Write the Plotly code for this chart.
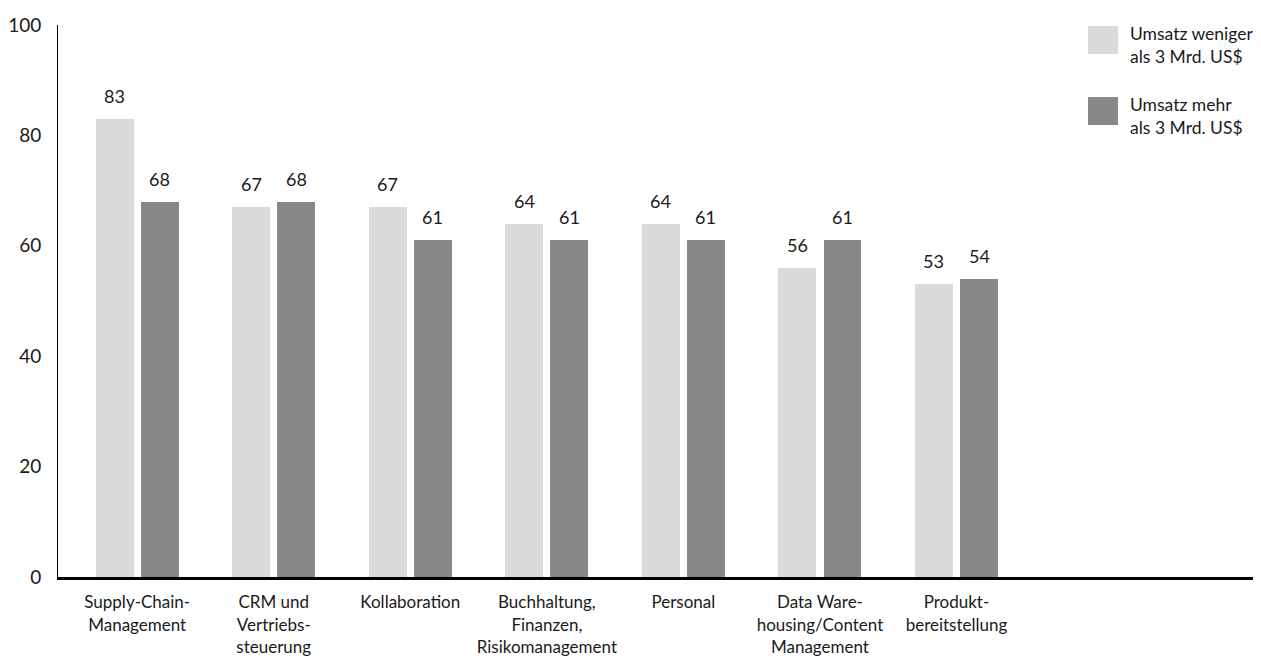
import plotly.graph_objects as go

categories = [
    "Supply-Chain-<br>Management",
    "CRM und<br>Vertriebs-<br>steuerung",
    "Kollaboration",
    "Buchhaltung,<br>Finanzen,<br>Risikomanagement",
    "Personal",
    "Data Ware-<br>housing/Content<br>Management",
    "Produkt-<br>bereitstellung",
]
series_names = ["Umsatz weniger<br>als 3 Mrd. US$", "Umsatz mehr<br>als 3 Mrd. US$"]
values_small = [83, 67, 67, 64, 64, 56, 53]
values_large = [68, 68, 61, 61, 61, 61, 54]
y_ticks = [0, 20, 40, 60, 80, 100]

colors = ["#d9dadc", "#87888a"]
FONT = "Lato, Open Sans, sans-serif"
TXT = "#1a1a1a"

xpos = list(range(len(categories)))
bar_w = 0.278
offsets = [-0.304, 0.026]

# page body has an 8px margin; compensate so the picture lines up
OFF = 8
W, H = 1261 - OFF, 659 - OFF
plot_l, plot_r, plot_t, plot_b = 58 - OFF, W, 25 - OFF, 577 - OFF

fig = go.Figure()
for vals, name, col, off in zip([values_small, values_large], series_names, colors, offsets):
    fig.add_trace(go.Bar(
        x=xpos, y=vals, name=name, marker=dict(color=col, line=dict(width=0)),
        width=bar_w, offset=off, showlegend=False,
    ))
    for xi, v in zip(xpos, vals):
        fig.add_annotation(x=xi + off + bar_w / 2, y=v, text=str(v), showarrow=False,
                           yanchor="bottom", yshift=10, xref="x", yref="y",
                           font=dict(family=FONT, size=18, color=TXT))

def px(x):
    return (x - OFF - plot_l) / (plot_r - plot_l)
def py(y):
    return (plot_b - (y - OFF)) / (plot_b - plot_t)

legend_items = [(26, 54), (97, 125)]
for (y0, y1), name, col in zip(legend_items, series_names, colors):
    fig.add_shape(type="rect", xref="paper", yref="paper",
                  x0=px(1088), x1=px(1118), y0=py(y1), y1=py(y0),
                  fillcolor=col, line=dict(width=0))
    fig.add_annotation(xref="paper", yref="paper", x=px(1128), y=py((y0 + y1) / 2 + 5),
                       xanchor="left", yanchor="middle", align="left", text=name,
                       showarrow=False, font=dict(family=FONT, size=17.5, color=TXT))

fig.update_layout(
    width=W, height=H,
    margin=dict(l=plot_l, r=W - plot_r, t=plot_t, b=H - plot_b, autoexpand=False),
    paper_bgcolor="white", plot_bgcolor="white",
    font=dict(family=FONT, size=17, color=TXT),
    bargap=0,
)
fig.update_xaxes(
    range=[-0.58, 8.23], tickvals=xpos, ticktext=categories,
    showline=True, linecolor="black", linewidth=3, showgrid=False, zeroline=False,
    ticks="", ticklabelstandoff=8, tickfont=dict(family=FONT, size=17, color=TXT),
    automargin=False,
)
fig.update_yaxes(
    range=[0, 100], tickvals=y_ticks, showline=True, linecolor="black", linewidth=1,
    showgrid=False, zeroline=False, ticks="", ticklabelstandoff=12,
    tickfont=dict(family=FONT, size=19, color=TXT), automargin=False,
)

fig.write_html("out.html")
